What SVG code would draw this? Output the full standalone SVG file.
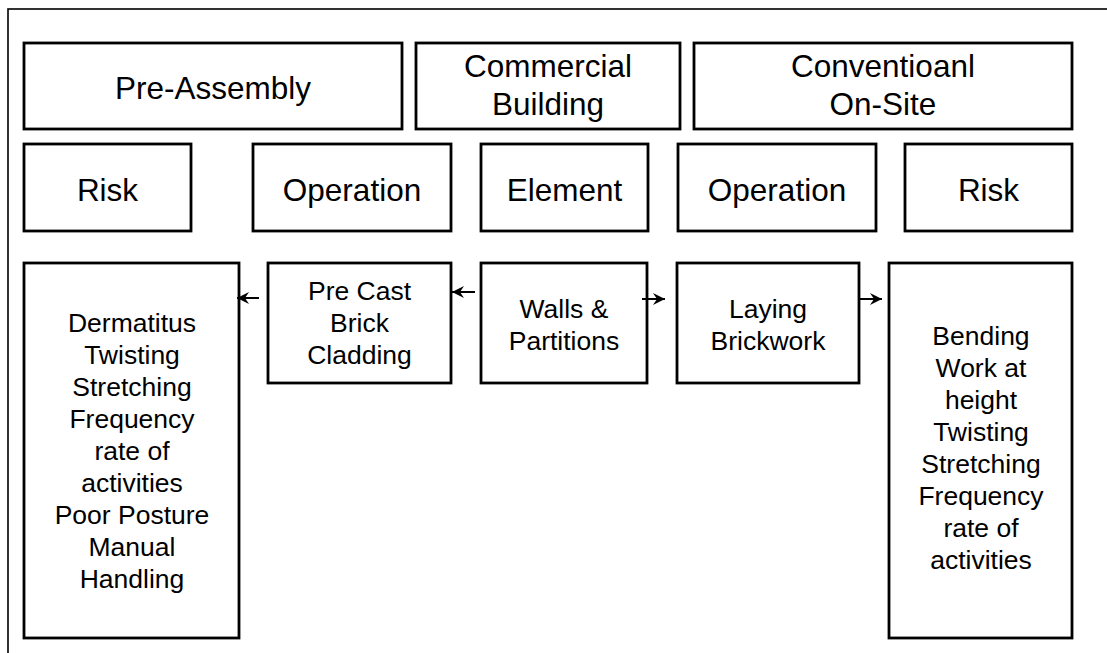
<svg xmlns="http://www.w3.org/2000/svg" width="1107" height="653" viewBox="0 0 1107 653">
<style>
.box{fill:#fff;stroke:#000;stroke-width:2.8}
.frame{fill:#fff;stroke:#000;stroke-width:1.6}
.t{font-family:"Liberation Sans",Arial,sans-serif;fill:#000;text-anchor:middle}
.big{font-size:31.5px}
.sm{font-size:26.5px}
.conn{stroke:#000;stroke-width:2;fill:none}
</style>
<defs>
<marker id="ah" viewBox="0 0 12 12" refX="12" refY="6" markerWidth="12" markerHeight="12" markerUnits="userSpaceOnUse" orient="auto">
<path d="M0,0 L12,6 L0,12 L4,6 Z" fill="#000"/>
</marker>
</defs>
<rect class="frame" x="8" y="9" width="1110" height="660"/>
<g id="pre-assembly"><rect class="box" x="24" y="43" width="378" height="86"/><text class="t big" x="213" y="99">Pre-Assembly</text></g>
<g id="commercial-building"><rect class="box" x="416" y="43" width="264" height="86"/><text class="t big" x="548" y="77">Commercial</text><text class="t big" x="548" y="115">Building</text></g>
<g id="conventional-onsite"><rect class="box" x="694" y="43" width="378" height="86"/><text class="t big" x="883" y="77">Conventioanl</text><text class="t big" x="883" y="115">On-Site</text></g>
<g id="risk-left"><rect class="box" x="24" y="144" width="167" height="87"/><text class="t big" x="107.5" y="201">Risk</text></g>
<g id="operation-left"><rect class="box" x="253" y="144" width="198" height="87"/><text class="t big" x="352" y="201">Operation</text></g>
<g id="element"><rect class="box" x="481" y="144" width="167" height="87"/><text class="t big" x="564.5" y="201">Element</text></g>
<g id="operation-right"><rect class="box" x="678" y="144" width="198" height="87"/><text class="t big" x="777" y="201">Operation</text></g>
<g id="risk-right"><rect class="box" x="905" y="144" width="167" height="87"/><text class="t big" x="988.5" y="201">Risk</text></g>
<g id="risks-preassembly"><rect class="box" x="24" y="263" width="215" height="375"/>
<text class="t sm" x="132" y="332">Dermatitus</text>
<text class="t sm" x="132" y="364">Twisting</text>
<text class="t sm" x="132" y="396">Stretching</text>
<text class="t sm" x="132" y="428">Frequency</text>
<text class="t sm" x="132" y="460">rate of</text>
<text class="t sm" x="132" y="492">activities</text>
<text class="t sm" x="132" y="524">Poor Posture</text>
<text class="t sm" x="132" y="556">Manual</text>
<text class="t sm" x="132" y="588">Handling</text>
</g>
<g id="precast"><rect class="box" x="268" y="263" width="183" height="120"/>
<text class="t sm" x="359.5" y="300">Pre Cast</text>
<text class="t sm" x="359.5" y="332">Brick</text>
<text class="t sm" x="359.5" y="364">Cladding</text>
</g>
<g id="walls"><rect class="box" x="481" y="263" width="166" height="120"/>
<text class="t sm" x="564" y="318">Walls &amp;</text>
<text class="t sm" x="564" y="350">Partitions</text>
</g>
<g id="laying"><rect class="box" x="677" y="263" width="182" height="120"/>
<text class="t sm" x="768" y="318">Laying</text>
<text class="t sm" x="768" y="350">Brickwork</text>
</g>
<g id="risks-onsite"><rect class="box" x="889" y="263" width="183" height="375"/>
<text class="t sm" x="981" y="345">Bending</text>
<text class="t sm" x="981" y="377">Work at</text>
<text class="t sm" x="981" y="409">height</text>
<text class="t sm" x="981" y="441">Twisting</text>
<text class="t sm" x="981" y="473">Stretching</text>
<text class="t sm" x="981" y="505">Frequency</text>
<text class="t sm" x="981" y="537">rate of</text>
<text class="t sm" x="981" y="569">activities</text>
</g>
<g id="connectors">
<line class="conn" x1="259" y1="298" x2="237" y2="298" marker-end="url(#ah)"/>
<line class="conn" x1="475" y1="292" x2="452" y2="292" marker-end="url(#ah)"/>
<line class="conn" x1="642" y1="299" x2="665" y2="299" marker-end="url(#ah)"/>
<line class="conn" x1="860" y1="299" x2="882" y2="299" marker-end="url(#ah)"/>
</g>
</svg>
